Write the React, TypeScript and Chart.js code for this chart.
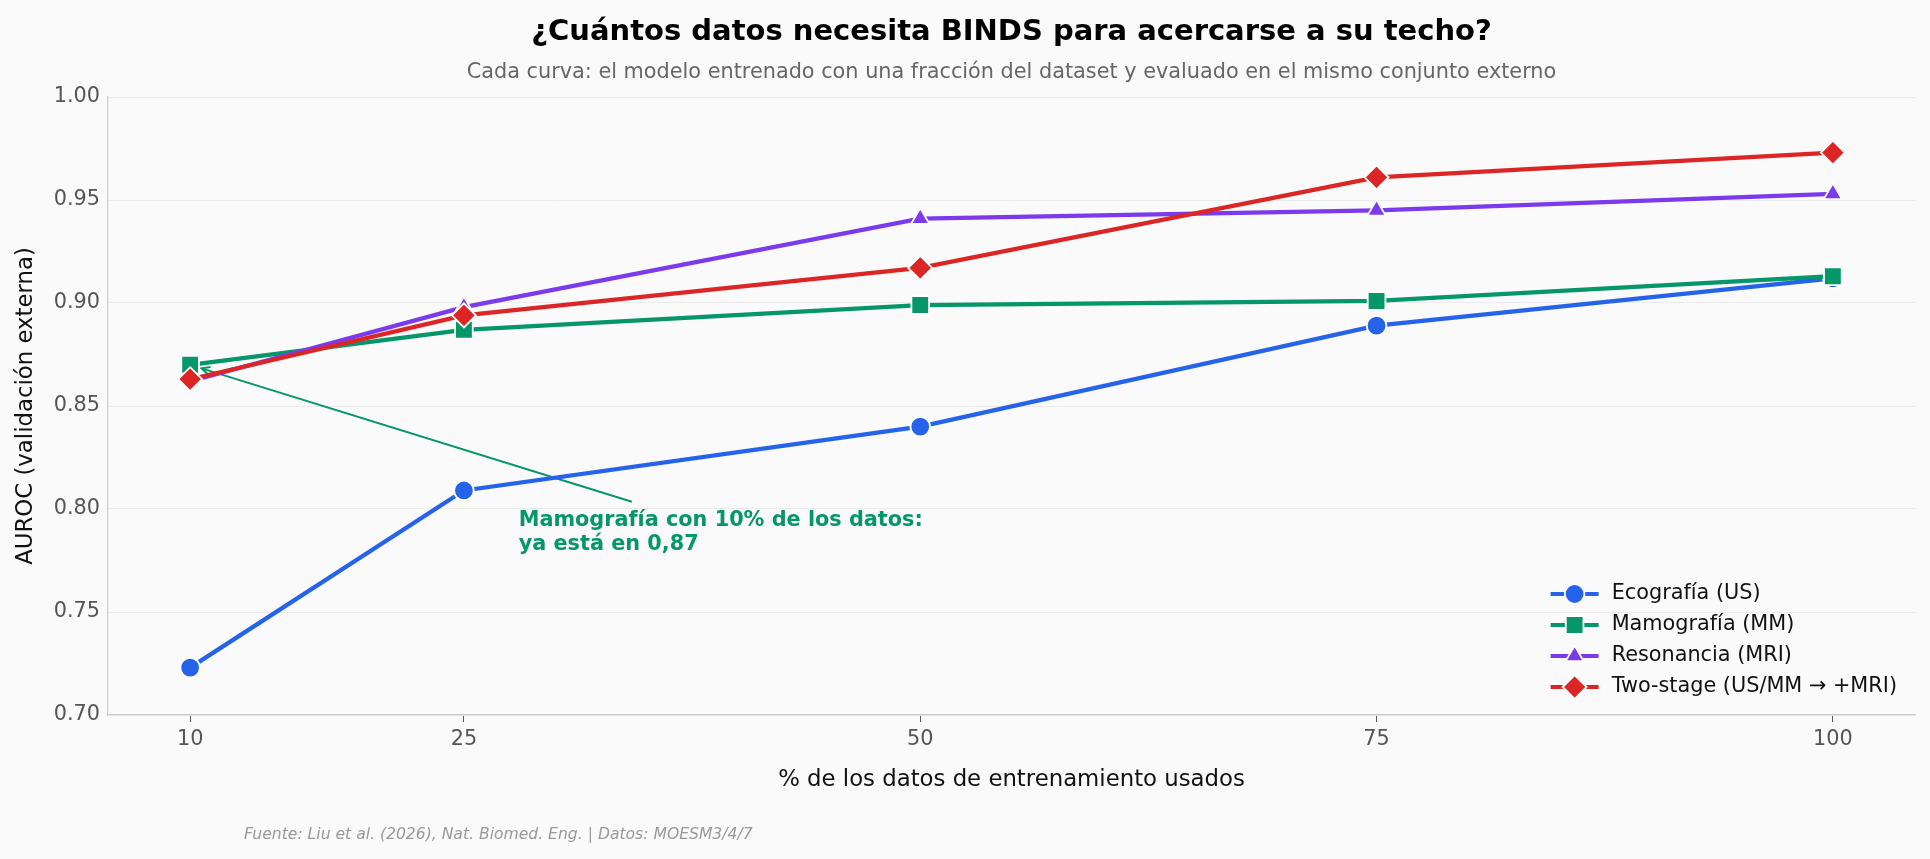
import { useEffect, useRef } from 'react';
import { Chart, registerables } from 'chart.js';

Chart.register(...registerables);

// Texts
const TITLE = '¿Cuántos datos necesita BINDS para acercarse a su techo?';
const SUBTITLE =
  'Cada curva: el modelo entrenado con una fracción del dataset y evaluado en el mismo conjunto externo';
const SOURCE = 'Fuente: Liu et al. (2026), Nat. Biomed. Eng. | Datos: MOESM3/4/7';
const X_TITLE = '% de los datos de entrenamiento usados';
const Y_TITLE = 'AUROC (validación externa)';

// Data: % of training data used vs external-validation AUROC
const fractions = [10, 25, 50, 75, 100];
const usAuroc = [0.723, 0.809, 0.84, 0.889, 0.912];
const mmAuroc = [0.87, 0.887, 0.899, 0.901, 0.913];
const mriAuroc = [0.862, 0.898, 0.941, 0.945, 0.953];
const twoStageAuroc = [0.863, 0.894, 0.917, 0.961, 0.973];

const seriesLabels = ['Ecografía (US)', 'Mamografía (MM)', 'Resonancia (MRI)', 'Two-stage (US/MM → +MRI)'];
const seriesValues = [usAuroc, mmAuroc, mriAuroc, twoStageAuroc];
const seriesColors = ['#2563eb', '#059669', '#7c3aed', '#dc2626'];
const seriesMarkers = ['circle', 'rect', 'triangle', 'rectRot'];
const markerRadii = [9.8, 12.5, 10.5, 12];

const xTickValues = [10, 25, 50, 75, 100];
const yTickStep = 0.05;

// Annotation
const noteLines = ['Mamografía con 10% de los datos:', 'ya está en 0,87'];
const notePoint = { x: 10, y: 0.87 };
const noteArrowEnd = { x: 34.2, y: 0.8035 };
const noteTextPos = { x: 28, y: 0.7995 };

const FONT = '"DejaVu Sans", "Liberation Sans", sans-serif';
const BG = '#fafafa';

// Marker shapes matching Chart.js point styles, for the legend handles
function drawMarker(ctx: CanvasRenderingContext2D, style: string, r: number, x: number, y: number) {
  ctx.beginPath();
  if (style === 'circle') {
    ctx.arc(x, y, r, 0, Math.PI * 2);
  } else if (style === 'rect') {
    const s = r * Math.SQRT1_2;
    ctx.rect(x - s, y - s, 2 * s, 2 * s);
  } else if (style === 'triangle') {
    for (let k = 0; k < 3; k++) {
      const a = (k * 2 * Math.PI) / 3;
      const px = x + Math.sin(a) * r;
      const py = y - Math.cos(a) * r;
      if (k === 0) ctx.moveTo(px, py);
      else ctx.lineTo(px, py);
    }
  } else {
    ctx.moveTo(x - r, y);
    ctx.lineTo(x, y - r);
    ctx.lineTo(x + r, y);
    ctx.lineTo(x, y + r);
  }
  ctx.closePath();
  ctx.fill();
  ctx.stroke();
}

export default function App() {
  const canvasRef = useRef<HTMLCanvasElement | null>(null);

  useEffect(() => {
    const canvas = canvasRef.current;
    if (!canvas) return;

    const background = {
      id: 'background',
      beforeDraw(chart: any) {
        const { ctx, width, height } = chart;
        ctx.save();
        ctx.fillStyle = BG;
        ctx.fillRect(0, 0, width, height);
        ctx.restore();
      },
    };

    const noteArrow = {
      id: 'noteArrow',
      beforeDatasetsDraw(chart: any) {
        const { ctx, scales } = chart;
        const x0 = scales.x.getPixelForValue(notePoint.x);
        const y0 = scales.y.getPixelForValue(notePoint.y);
        const x1 = scales.x.getPixelForValue(noteArrowEnd.x);
        const y1 = scales.y.getPixelForValue(noteArrowEnd.y);
        const ang = Math.atan2(y1 - y0, x1 - x0);
        const sx = x0 + Math.cos(ang) * 12;
        const sy = y0 + Math.sin(ang) * 12;
        ctx.save();
        ctx.strokeStyle = seriesColors[1];
        ctx.lineWidth = 2;
        ctx.beginPath();
        ctx.moveTo(x1, y1);
        ctx.lineTo(sx, sy);
        ctx.stroke();
        const head = 9;
        ctx.beginPath();
        ctx.moveTo(sx + Math.cos(ang + 0.45) * head, sy + Math.sin(ang + 0.45) * head);
        ctx.lineTo(sx, sy);
        ctx.lineTo(sx + Math.cos(ang - 0.45) * head, sy + Math.sin(ang - 0.45) * head);
        ctx.stroke();
        ctx.restore();
      },
    };

    const decorations = {
      id: 'decorations',
      afterDraw(chart: any) {
        const { ctx, chartArea, scales } = chart;
        const cx = (chartArea.left + chartArea.right) / 2;
        ctx.save();
        ctx.textAlign = 'center';
        ctx.textBaseline = 'middle';

        ctx.fillStyle = '#000000';
        ctx.font = `bold 29px ${FONT}`;
        ctx.fillText(TITLE, cx, 32);

        ctx.fillStyle = '#666666';
        ctx.font = `20.8px ${FONT}`;
        ctx.fillText(SUBTITLE, cx, 73);

        // axis titles
        ctx.fillStyle = '#111111';
        ctx.font = `22.8px ${FONT}`;
        ctx.fillText(X_TITLE, cx, 780);
        ctx.save();
        ctx.translate(26, (chartArea.top + chartArea.bottom) / 2);
        ctx.rotate(-Math.PI / 2);
        ctx.fillText(Y_TITLE, 0, 0);
        ctx.restore();

        // source line
        ctx.textAlign = 'left';
        ctx.fillStyle = '#999999';
        ctx.font = `italic 15.6px ${FONT}`;
        ctx.fillText(SOURCE, 244, 835);

        // annotation text
        ctx.fillStyle = seriesColors[1];
        ctx.font = `bold 20.8px ${FONT}`;
        ctx.textBaseline = 'top';
        const tx = scales.x.getPixelForValue(noteTextPos.x);
        const ty = scales.y.getPixelForValue(noteTextPos.y);
        noteLines.forEach((line, i) => ctx.fillText(line, tx, ty + i * 24.5));

        // legend, lower right inside the plot
        ctx.font = `20.8px ${FONT}`;
        ctx.textBaseline = 'middle';
        const maxW = Math.max(...seriesLabels.map((l) => ctx.measureText(l).width));
        const textX = chartArea.right - 18 - maxW;
        const rowH = 31;
        const lastY = chartArea.bottom - 28;
        seriesLabels.forEach((label, i) => {
          const y = lastY - (seriesLabels.length - 1 - i) * rowH;
          const hx0 = textX - 61;
          const hx1 = textX - 13;
          ctx.strokeStyle = seriesColors[i];
          ctx.lineWidth = 4;
          ctx.beginPath();
          ctx.moveTo(hx0, y);
          ctx.lineTo(hx1, y);
          ctx.stroke();
          ctx.fillStyle = seriesColors[i];
          ctx.strokeStyle = '#ffffff';
          ctx.lineWidth = 1.8;
          drawMarker(ctx, seriesMarkers[i], markerRadii[i], (hx0 + hx1) / 2, y);
          ctx.fillStyle = '#111111';
          ctx.fillText(label, textX, y);
        });
        ctx.restore();
      },
    };

    const datasets = seriesLabels.map((label, i) => ({
      label,
      data: fractions.map((f, j) => ({ x: f, y: seriesValues[i][j] })),
      borderColor: seriesColors[i],
      backgroundColor: seriesColors[i],
      borderWidth: 4.3,
      pointStyle: seriesMarkers[i],
      pointRadius: markerRadii[i],
      pointBorderColor: '#ffffff',
      pointBorderWidth: 1.8,
      pointBackgroundColor: seriesColors[i],
      tension: 0,
      order: seriesLabels.length - i,
    }));

    const chart = new Chart(canvas, {
      type: 'line',
      data: { datasets },
      plugins: [background, noteArrow, decorations],
      options: {
        responsive: false,
        animation: false,
        events: [],
        layout: { padding: { left: 0, top: 97, right: 15, bottom: 0 } },
        plugins: { legend: { display: false }, tooltip: { enabled: false }, title: { display: false } },
        scales: {
          x: {
            type: 'linear',
            min: 5.5,
            max: 104.5,
            afterFit(scale: any) {
              scale.height = 859 - 715;
            },
            afterBuildTicks(scale: any) {
              scale.ticks = xTickValues.map((v) => ({ value: v }));
            },
            grid: {
              drawOnChartArea: false,
              drawTicks: true,
              tickLength: 7,
              tickColor: '#555555',
              tickWidth: 1,
            },
            border: { display: true, color: '#cccccc', width: 1.2 },
            ticks: {
              autoSkip: false,
              maxRotation: 0,
              padding: 5,
              color: '#555555',
              font: { family: FONT, size: 20.8 },
              callback: (v: any) => String(v),
            },
          },
          y: {
            type: 'linear',
            min: 0.7,
            max: 1.0,
            afterFit(scale: any) {
              scale.width = 108;
            },
            grid: { color: '#ebebeb', lineWidth: 1, drawTicks: false },
            border: { display: true, color: '#cccccc', width: 1.2 },
            ticks: {
              stepSize: yTickStep,
              padding: 8,
              color: '#555555',
              font: { family: FONT, size: 20.8 },
              callback: (v: any) => Number(v).toFixed(2),
            },
          },
        },
      },
    });

    return () => chart.destroy();
  }, []);

  return (
    <div style={{ position: 'fixed', left: 0, top: 0, width: 1930, height: 859, background: BG }}>
      <canvas ref={canvasRef} width={1930} height={859} style={{ display: 'block', width: 1930, height: 859 }} />
    </div>
  );
}
